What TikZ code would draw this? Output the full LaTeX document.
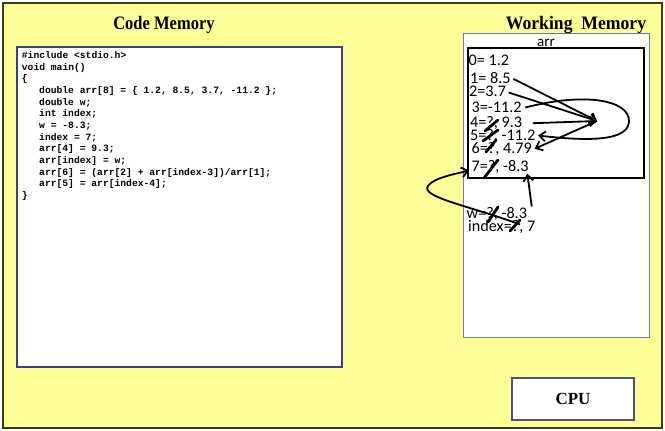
\documentclass[tikz,border=0pt]{standalone}
\usepackage{graphicx}
\usepackage{fontspec}
\setmainfont{Liberation Serif}
\newfontfamily\entryfont{Carlito}
\newfontfamily\listingfont{Liberation Mono}
\usetikzlibrary{arrows.meta}
\definecolor{panelyellow}{HTML}{FFFF99}
\definecolor{frameolive}{HTML}{3A3A20}
\definecolor{codeblue}{HTML}{3C3C8C}
\definecolor{memblue}{HTML}{7474AC}
\definecolor{cpublue}{HTML}{50507A}

\begin{document}
\begin{tikzpicture}[x=1pt,y=-1pt,
  title/.style={font=\fontsize{19}{19}\selectfont\bfseries, inner sep=0, anchor=base},
  codeline/.style={font=\listingfont\bfseries\fontsize{9.67}{11}\selectfont, inner sep=0, anchor=base west},
  entry/.style={font=\entryfont\fontsize{16.2}{16}\selectfont, inner sep=0.5pt, anchor=base west},
  panel/.style={fill=white, anchor=north west, inner sep=0},
  link/.style={line width=1.8pt, -{Straight Barb[length=6pt,width=10pt,line width=1.8pt]}},
  strike/.style={line width=2.8pt, line cap=round},
]
% page and outer frame
\useasboundingbox (0,0) rectangle (665,431);
\fill[white] (0,0) rectangle (665,431);
\draw[frameolive, fill=panelyellow, line width=2pt] (2.5,2.5) rectangle (662,428);

% headings
\node[title] (codetitle) at (164,30) {\scalebox{0.87}[1]{Code Memory}};
\node[title] (worktitle) at (576,30) {\scalebox{0.93}[1]{Working\ \ Memory}};

% panels
\node[panel, draw=codeblue, line width=1.8pt, minimum width=325, minimum height=320] (codebox) at (16,46) {};
\node[panel, draw=memblue, line width=1.3pt, minimum width=186, minimum height=304] (workbox) at (463,33) {};
\node[anchor=north west, inner sep=0, draw=black, line width=2pt, minimum width=176, minimum height=130] (arrbox) at (467,47) {};
\node[panel, anchor=center, draw=cpublue, line width=1.8pt, minimum width=122, minimum height=42,
      font=\fontsize{17}{17}\selectfont\bfseries] (cpu) at (573,399) {CPU};

% program listing
\node[codeline] (c1)  at (21.7,58.3)  {\#include <stdio.h>};
\node[codeline] (c2)  at (21.7,70.0)  {void main()};
\node[codeline] (c3)  at (21.7,81.6)  {\{};
\node[codeline] (c4)  at (39,93.3)    {double arr[8] = \{ 1.2, 8.5, 3.7, -11.2 \};};
\node[codeline] (c5)  at (39,105.0)   {double w;};
\node[codeline] (c6)  at (39,116.6)   {int index;};
\node[codeline] (c7)  at (39,128.3)   {w = -8.3;};
\node[codeline] (c8)  at (39,140.0)   {index = 7;};
\node[codeline] (c9)  at (39,151.6)   {arr[4] = 9.3;};
\node[codeline] (c10) at (39,163.3)   {arr[index] = w;};
\node[codeline] (c11) at (39,175.0)   {arr[6] = (arr[2] + arr[index-3])/arr[1];};
\node[codeline] (c12) at (39,186.6)   {arr[5] = arr[index-4];};
\node[codeline] (c13) at (21.7,198.3) {\}};

% array cells and variables
\node[entry, font=\entryfont\fontsize{15}{15}\selectfont, anchor=base] (arrlabel) at (546,46.5) {arr};
\node[entry] (e0) at (468,65.7)   {0= 1.2};
\node[entry] (e1) at (469.5,83.3) {1= 8.5};
\node[entry] (e2) at (468.5,96.7) {2=3.7};
\node[entry] (e3) at (471,112.7)  {3=-11.2};
\node[entry] (e4) at (469.5,127.7){4=?, 9.3};
\node[entry] (e5) at (469.5,140)  {5=?, -11.2};
\node[entry] (e6) at (471,153.3)  {6=?, 4.79};
\node[entry] (e7) at (471,171)    {7=?, -8.3};
\node[entry] (wvar) at (466,218.3){w=?, -8.3};
\node[entry] (idx) at (467.5,231) {index=?, 7};

% overwritten initial values
\draw[strike] (485,131) -- (498,120);
\draw[strike] (483,141) -- (498,130);
\draw[strike] (486,152) -- (496,140);
\draw[strike] (484,178) -- (498,160);
\draw[strike] (488,222) -- (498,207);
\draw[strike] (510,231) -- (520,220);

% data flow
\coordinate (hub) at (597,121);
\draw[link] ([shift={(2,1)}]e1.east) -- (hub);
\draw[link] ([shift={(2,1)}]e2.east) -- (hub);
\draw[link] ([shift={(10,0)}]e4.east) -- (hub);
\draw[link] (hub) -- ([shift={(2,0)}]e6.east);
\draw[link] ([shift={(3,0)}]e3.east) .. controls (585,92) and (629,100) .. (629,121)
            .. controls (629,142) and (585,141) .. ([shift={(2,0)}]e5.east);
\draw[link] ([shift={(4,0)}]wvar.north east) -- ([shift={(-2,0)}]e7.south east);
\draw[link] ([shift={(-16,-2)}]idx.east) .. controls (470,206) and (420,197) .. (428,186)
            .. controls (433,178) and (455,174) .. ([shift={(-2,4)}]e7.west);
\end{tikzpicture}
\end{document}
